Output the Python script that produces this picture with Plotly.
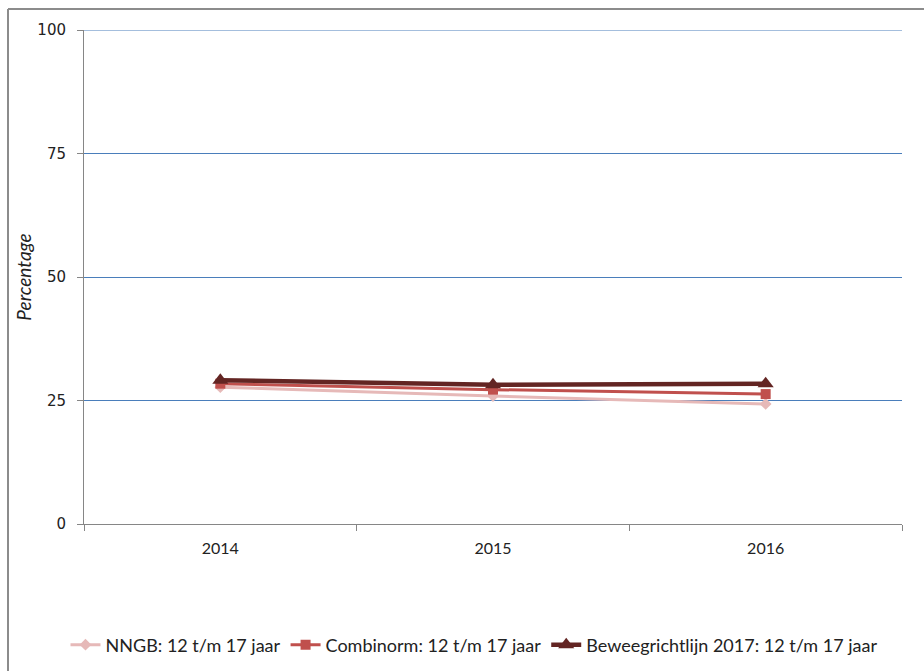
import plotly.graph_objects as go

# Data
years = ["2014", "2015", "2016"]
nngb = [27.7, 25.9, 24.3]
combinorm = [28.4, 27.2, 26.3]
beweeg = [29.1, 28.2, 28.4]

series_names = [
    "NNGB: 12 t/m 17 jaar",
    "Combinorm: 12 t/m 17 jaar",
    "Beweegrichtlijn 2017: 12 t/m 17 jaar",
]
y_ticks = [0, 25, 50, 75, 100]

W, H = 924, 671
L, R, T, B = 84, 22, 30, 147
pw, ph = W - L - R, H - T - B

fig = go.Figure()
fig.add_trace(go.Scatter(
    x=years, y=nngb, name=series_names[0], mode="lines+markers",
    line=dict(color="#E6B9B8", width=3),
    marker=dict(symbol="diamond", size=9, color="#E6B9B8"),
))
fig.add_trace(go.Scatter(
    x=years, y=combinorm, name=series_names[1], mode="lines+markers",
    line=dict(color="#C0504D", width=3),
    marker=dict(symbol="square", size=10, color="#C0504D"),
))
fig.add_trace(go.Scatter(
    x=years, y=beweeg, name=series_names[2], mode="lines+markers",
    line=dict(color="#632523", width=4.5),
    marker=dict(symbol="triangle-up", size=14, color="#632523"),
))

# Top gridline (at the end of the value range)
fig.add_shape(type="line", xref="paper", yref="y", x0=0, x1=1, y0=y_ticks[-1], y1=y_ticks[-1],
              line=dict(color="#4A7EBB", width=1), layer="below")

# Outer chart frame (top and left edges)
fx0 = (8 - L) / pw
fy1 = (H - B - 9) / ph
fig.add_shape(type="line", xref="paper", yref="paper", x0=fx0, x1=1.2, y0=fy1, y1=fy1,
              line=dict(color="#8C8C8C", width=2))
fig.add_shape(type="line", xref="paper", yref="paper", x0=fx0, x1=fx0, y0=fy1, y1=-0.4,
              line=dict(color="#8C8C8C", width=2))

fig.update_layout(
    width=W, height=H,
    margin=dict(l=L, r=R, t=T, b=B, autoexpand=False),
    paper_bgcolor="white", plot_bgcolor="white",
    showlegend=True,
    legend=dict(orientation="h", x=(474 - L) / pw, xanchor="center",
                y=(H - B - 645) / ph, yanchor="middle",
                font=dict(family="Lato", size=18, color="#222"),
                itemwidth=30, tracegroupgap=0, itemclick=False),
    xaxis=dict(
        type="category", tickson="boundaries", range=[-0.5, 2.5],
        showline=True, linecolor="#868686", linewidth=1,
        ticks="outside", ticklen=6, tickcolor="#868686",
        showgrid=False, zeroline=False, ticklabelstandoff=10, automargin=False,
        tickfont=dict(family="Lato", size=16, color="#222"),
    ),
    yaxis=dict(
        range=[0, 100], tickvals=y_ticks,
        showline=True, linecolor="#868686", linewidth=1,
        ticks="outside", ticklen=6, tickcolor="#868686",
        showgrid=True, gridcolor="#4A7EBB", gridwidth=1,
        zeroline=False, ticklabelstandoff=8, automargin=False,
        tickfont=dict(family="DejaVu Sans", size=15, color="#222"),
        title=dict(text="<i>Percentage</i>", font=dict(family="Lato", size=19, color="#222"),
                   standoff=0),
    ),
)

fig.write_html("out.html")
